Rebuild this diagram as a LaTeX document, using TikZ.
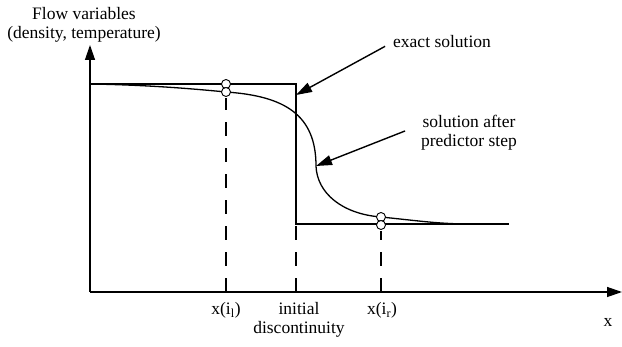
\documentclass[tikz,border=0pt]{standalone}
\usepackage{fontspec}
\setmainfont{Liberation Serif}
\usetikzlibrary{arrows.meta}

\begin{document}
\begin{tikzpicture}[x=1pt,y=-1pt,
		lbl/.style={font=\fontsize{17.5}{19}\selectfont, inner sep=0pt, align=center},
		axis/.style={-{Triangle[length=15pt,width=10pt]}, line width=1.3pt},
		pointer/.style={-{Triangle[length=16pt,width=10pt]}, line width=1.4pt, shorten <=9pt},
		plot/.style={line width=1.3pt},
		guide/.style={line width=1.3pt, dash pattern=on 14pt off 12pt},
		marker/.style={draw, fill=white, line width=0.9pt}]
		\useasboundingbox (0,0) rectangle (622,347);
		
		% Axes
		\coordinate (O) at (90,292);
		\coordinate (ytip) at (90,45);
		\coordinate (xtip) at (622,292);
		\draw[axis] (O) -- (ytip);
		\draw[axis] (O) -- (xtip);
		
		% Exact solution: step profile
		\coordinate (ul) at (90,84);
		\coordinate (ur) at (296,84);
		\coordinate (ll) at (296,224);
		\coordinate (lr) at (509,224);
		\draw[plot] (ul) -- (ur) -- (ll) -- (lr);
		
		% Solution after predictor step
		\coordinate (cl) at (226,92);
		\coordinate (cm) at (316,166);
		\coordinate (cr) at (381,217);
		\draw[plot] (ul) .. controls (150,85) and (195,89) .. (cl)
			.. controls (285,96) and (316,115) .. (cm)
			.. controls (317,193) and (342,214) .. (cr)
			.. controls (420,221) and (440,224) .. (470,224);
		
		% Grid positions on the x axis
		\foreach \xp/\ytop in {226/98, 296/226, 381/231} {
			\draw[guide] (\xp,292) -- (\xp,\ytop);
		}
		
		% Sample points on both profiles
		\foreach \xp/\yp in {226/84, 226/92, 381/217, 381/225} {
			\draw[marker] (\xp,\yp) circle (4.5);
		}
		
		% Labels (base = baseline of the last line)
		\node[lbl, anchor=base] (flow) at (84,39) {Flow variables\\(density, temperature)};
		\node[lbl, anchor=base west] (exact) at (393,48) {exact solution};
		\node[lbl, anchor=base] (pred) at (469,147) {solution after\\predictor step};
		\node[lbl, anchor=base] (il) at (226,315) {x(i\textsubscript{l})};
		\node[lbl, anchor=base] (disc) at (299,334) {initial\\discontinuity};
		\node[lbl, anchor=base] (ir) at (382,315) {x(i\textsubscript{r})};
		\node[lbl, anchor=base] (xlab) at (608,327) {x};
		
		% Pointers to the two profiles
		\draw[pointer] (exact.west) -- (296,95);
		\draw[pointer, shorten <=17pt] (pred.170) -- (cm);
	\end{tikzpicture}
\end{document}
